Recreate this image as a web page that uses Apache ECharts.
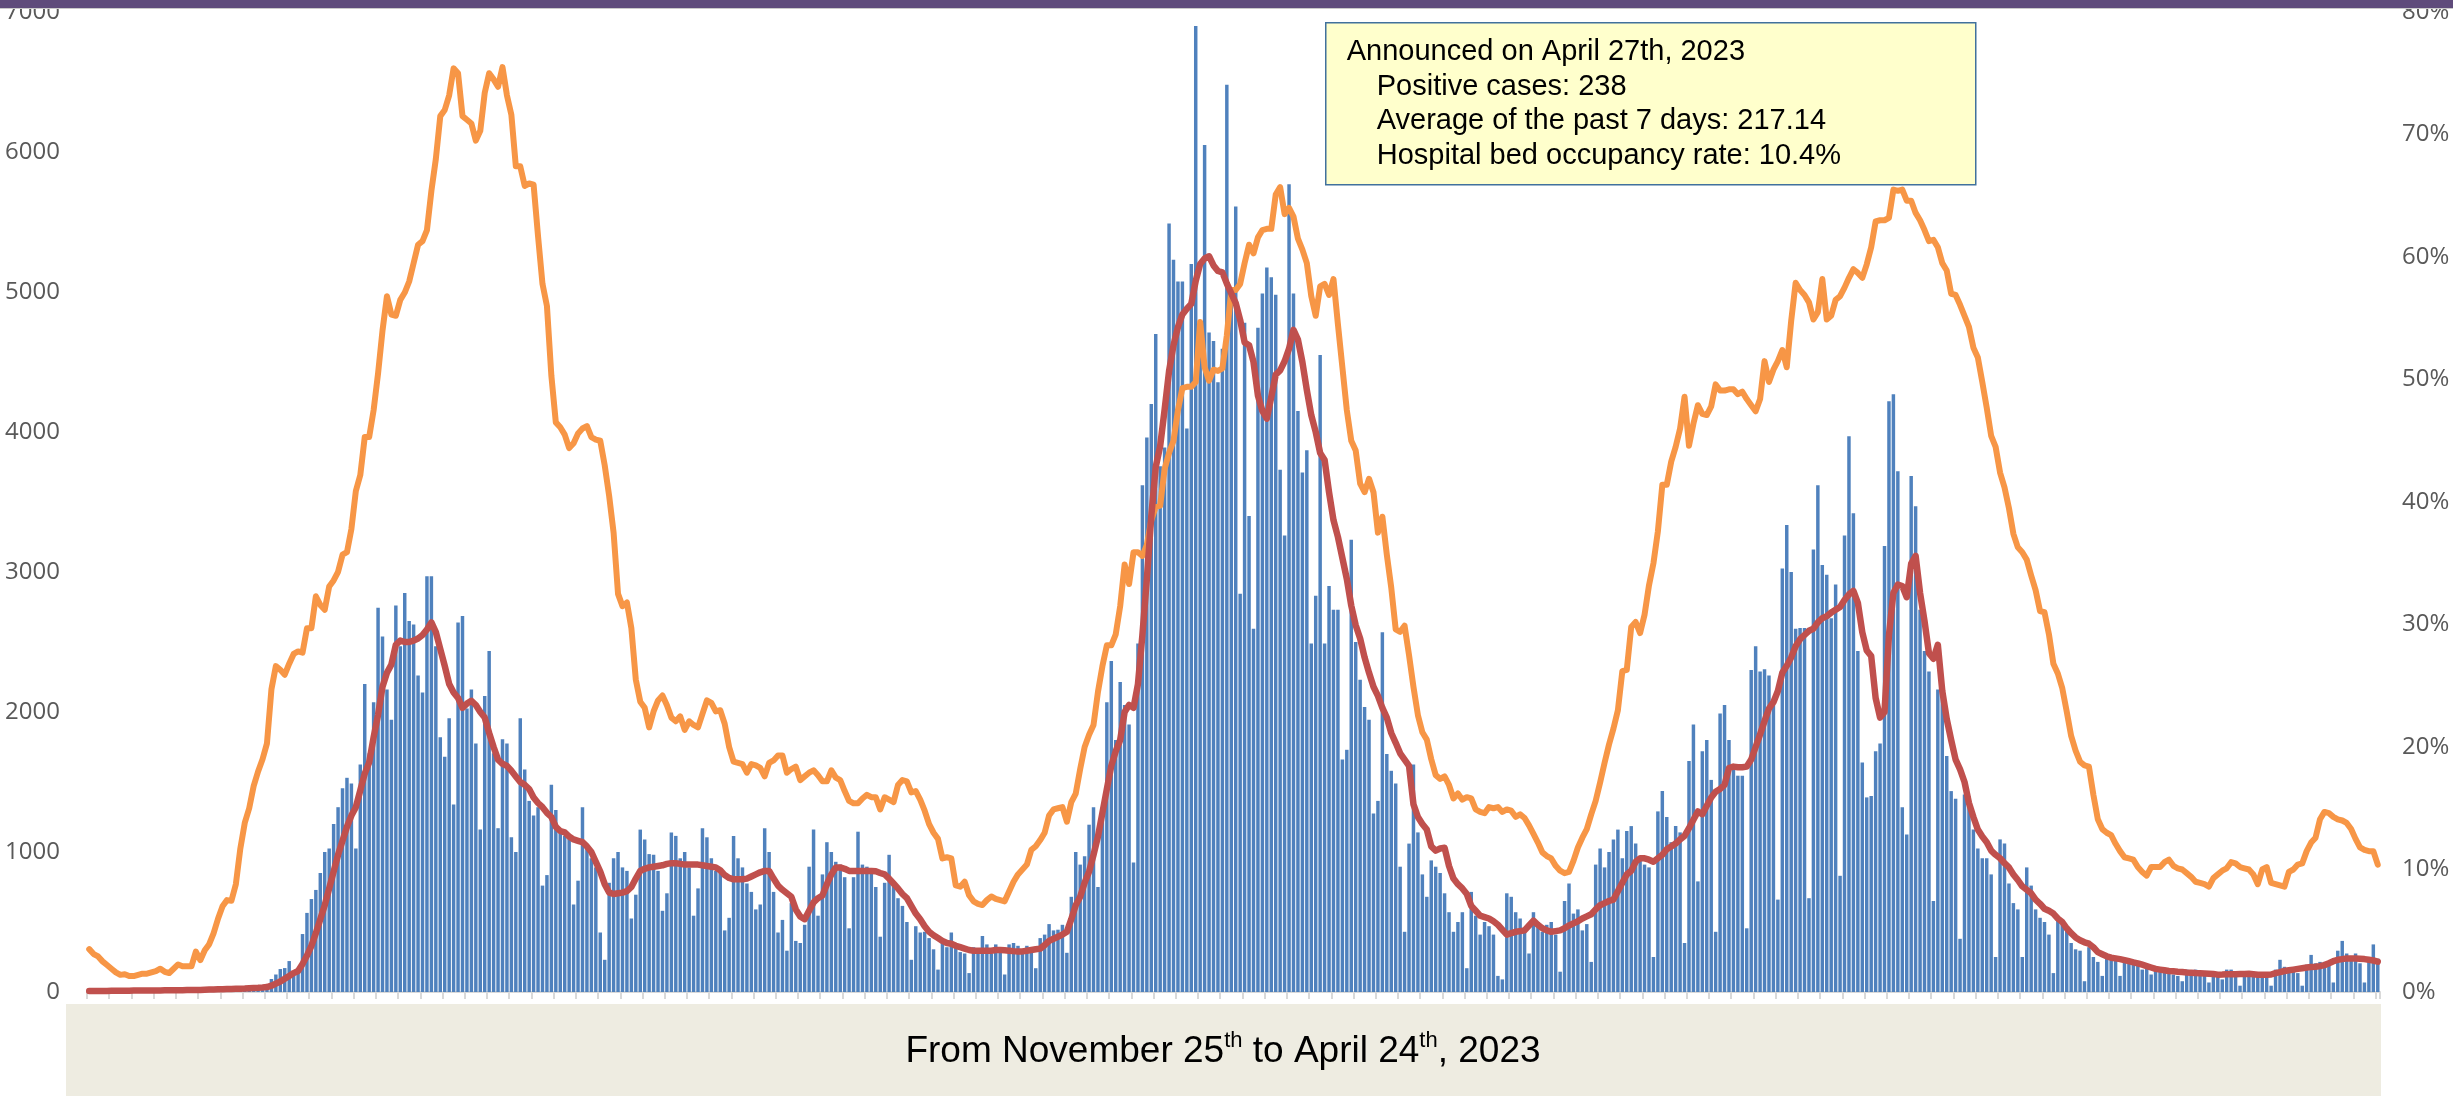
<!DOCTYPE html>
<html>
<head>
<meta charset="utf-8">
<title>Positive cases and hospital bed occupancy</title>
<script src="https://cdn.jsdelivr.net/npm/echarts@6/dist/echarts.min.js"></script>
<style>
  html, body { margin: 0; padding: 0; background: #fff; }
  #chart { width: 2453px; height: 1096px; }
</style>
</head>
<body>
<div id="chart"></div>
<script>
// daily positive cases, 2021-11-25 .. 2023-04-24 (516 days)
const startDate = '2021-11-25';
const cases = [
  6, 9, 7, 10, 8, 9, 11, 7, 10, 12,                          // 0
  9, 8, 11, 13, 9, 12, 10, 14, 13, 11,                       // 10
  12, 12, 15, 14, 16, 13, 15, 18, 16, 20,                    // 20
  19, 22, 18, 24, 26, 24, 28, 31, 30, 35,                    // 30
  38, 93, 125, 164, 171, 221, 121, 135, 414, 565,            // 40
  664, 729, 850, 1000, 1025, 1200, 1320, 1455, 1530, 1490,   // 50
  1025, 1625, 2200, 1705, 2070, 2745, 2540, 2160, 1945, 2760,
  2470, 2850, 2650, 2625, 2260, 2140, 2970, 2970, 2470, 1820,
  1680, 1955, 1340, 2640, 2685, 2025, 2160, 1775, 1160, 2115,
  2435, 1705, 1170, 1805, 1775, 1105, 1000, 1955, 1590, 1365,
  1260, 1320, 760, 835, 1480, 1300, 1140, 1115, 1125, 625,   // 100
  795, 1320, 1025, 955, 890, 425, 230, 780, 955, 1000,
  890, 865, 525, 695, 1160, 1090, 985, 980, 865, 580,
  705, 1140, 1115, 955, 1000, 890, 545, 740, 1170, 1105,
  955, 865, 850, 440, 530, 1115, 955, 890, 775, 715,
  590, 625, 1170, 1000, 715, 425, 515, 295, 635, 365,        // 150
  350, 480, 895, 1160, 545, 840, 1070, 1000, 930, 910,
  820, 455, 820, 1145, 910, 895, 880, 750, 395, 780,
  980, 775, 670, 615, 500, 230, 470, 425, 430, 385,
  305, 160, 350, 320, 425, 350, 285, 275, 135, 320,
  275, 400, 340, 275, 340, 310, 125, 340, 350, 330,          // 200
  295, 330, 280, 170, 385, 410, 485, 440, 445, 480,
  280, 680, 1000, 910, 970, 1195, 1320, 750, 1320, 2070,
  2365, 1800, 2215, 2050, 1910, 925, 2490, 3620, 3960, 4200,
  4700, 3755, 3890, 5490, 5230, 5075, 5075, 4025, 5200, 6900,
  4800, 6050, 4710, 4650, 4355, 4595, 6480, 5005, 5610, 2845, // 250
  4780, 3400, 2595, 4745, 4990, 5175, 5105, 4980, 3730, 3260,
  5770, 4990, 4150, 3710, 3870, 2490, 2830, 4550, 2490, 2900,
  2730, 2730, 1660, 1730, 3230, 2500, 2230, 2035, 1945, 1275,
  1365, 2570, 1700, 1580, 1490, 895, 430, 1060, 1625, 1140,
  840, 680, 940, 895, 850, 705, 570, 430, 500, 570,          // 300
  170, 715, 545, 410, 500, 470, 410, 115, 90, 705,
  680, 570, 525, 455, 275, 570, 500, 430, 480, 500,
  410, 145, 650, 775, 560, 590, 440, 485, 215, 910,
  1025, 890, 1000, 1090, 1160, 955, 1150, 1185, 1060, 955,
  910, 890, 250, 1290, 1435, 1250, 1070, 1185, 1140, 350,    // 350
  1650, 1910, 790, 1720, 1800, 1515, 430, 1990, 2050, 1800,
  1615, 1545, 1545, 455, 2300, 2470, 2290, 2305, 2260, 2095,
  660, 3025, 3335, 3000, 2595, 2600, 2600, 670, 3160, 3620,
  3050, 2980, 2670, 2910, 830, 3260, 3970, 3420, 2435, 1640,
  1390, 1400, 1720, 1775, 3185, 4220, 4270, 3720, 1320, 1125, // 400
  3685, 3470, 2730, 2435, 2290, 650, 2160, 2170, 1685, 1435,
  1380, 380, 1410, 1400, 1160, 1025, 955, 955, 840, 250,
  1090, 1060, 775, 635, 590, 250, 890, 760, 590, 530,
  500, 410, 135, 525, 500, 440, 350, 305, 295, 77,
  320, 250, 215, 115, 260, 250, 245, 115, 230, 235,          // 450
  230, 195, 160, 195, 125, 180, 160, 150, 135, 125,
  115, 77, 160, 135, 160, 150, 115, 68, 150, 125,
  90, 160, 160, 135, 45, 150, 135, 125, 125, 115,
  115, 45, 160, 230, 180, 160, 170, 135, 45, 195,
  265, 205, 215, 215, 205, 68, 295, 365, 275, 250,           // 500
  275, 205, 68, 230, 340, 238
];

// average of the past 7 days
const average7 = [
  8, 8, 8, 8, 8, 9, 9, 9, 9, 9,
  10, 10, 10, 10, 11, 11, 11, 12, 12, 12,
  13, 13, 14, 14, 15, 15, 16, 17, 18, 19,
  20, 21, 22, 23, 24, 25, 27, 29, 30, 32,
  35, 45, 60, 75, 95, 115, 135, 150, 200, 260,
  330, 420, 520, 620, 740, 860, 980, 1080, 1180, 1260,
  1320, 1440, 1560, 1640, 1820, 1980, 2180, 2280, 2340, 2480,
  2510, 2500, 2500, 2510, 2525, 2550, 2590, 2640, 2570, 2450,
  2330, 2200, 2140, 2100, 2030, 2060, 2080, 2050, 2000, 1960,
  1850, 1750, 1660, 1630, 1615, 1580, 1540, 1500, 1480, 1450,
  1390, 1350, 1320, 1280, 1250, 1180, 1150, 1140, 1110, 1090, // 100
  1080, 1070, 1040, 1000, 930, 860, 770, 710, 700, 705,
  710, 720, 750, 810, 865, 880, 890, 895, 900, 905,
  915, 920, 920, 915, 910, 910, 910, 910, 905, 900,
  895, 890, 870, 835, 815, 805, 805, 805, 810, 825,
  840, 855, 865, 865, 810, 760, 730, 705, 680, 590,
  540, 520, 580, 640, 670, 690, 770, 840, 890, 890,
  880, 865, 865, 865, 865, 865, 865, 862, 850, 840,
  810, 775, 740, 700, 670, 615, 560, 520, 470, 430,
  405, 385, 365, 350, 345, 330, 320, 310, 300, 295,
  295, 295, 295, 295, 300, 300, 298, 295, 292, 290,           // 200
  290, 295, 300, 305, 310, 335, 365, 380, 395, 410,
  430, 520, 620, 680, 780, 860, 980, 1110, 1280, 1450,
  1615, 1720, 1800, 2000, 2050, 2030, 2200, 2550, 2950, 3400,
  3750, 3900, 4160, 4435, 4620, 4750, 4840, 4880, 4915, 5080,
  5200, 5240, 5255, 5190, 5150, 5140, 5060, 4990, 4920, 4800,
  4640, 4620, 4500, 4260, 4150, 4095, 4250, 4410, 4440, 4505,
  4595, 4730, 4660, 4500, 4300, 4120, 4000, 3850, 3800, 3570,
  3370, 3250, 3100, 2950, 2760, 2620, 2525, 2390, 2280, 2180,
  2115, 2030, 1960, 1850, 1780, 1705, 1660, 1615, 1340, 1250,
  1200, 1160, 1040, 1010, 1025, 1030, 900, 810, 770, 740,     // 300
  700, 615, 580, 545, 535, 525, 505, 480, 445, 410,
  420, 430, 435, 440, 475, 510, 480, 455, 440, 430,
  435, 440, 455, 475, 490, 505, 525, 540, 555, 590,
  620, 635, 650, 660, 720, 780, 840, 865, 930, 955,
  955, 945, 930, 955, 980, 1020, 1040, 1060, 1090, 1115,
  1170, 1230, 1290, 1270, 1330, 1390, 1430, 1450, 1480, 1600,
  1610, 1605, 1605, 1610, 1660, 1750, 1840, 1935, 2025, 2070,
  2150, 2280, 2330, 2390, 2470, 2520, 2550, 2580, 2595, 2640,
  2670, 2685, 2710, 2730, 2750, 2800, 2840, 2865, 2780, 2570,
  2440, 2400, 2100, 1960, 2000, 2550, 2850, 2910, 2900, 2820, // 400
  3060, 3115, 2850, 2650, 2420, 2380, 2480, 2150, 1950, 1800,
  1660, 1590, 1500, 1350, 1250, 1160, 1110, 1070, 1010, 980,
  955, 920, 890, 840, 800, 755, 730, 705, 660, 630,
  595, 580, 560, 525, 500, 455, 420, 390, 370, 355,
  345, 320, 285, 270, 255, 245, 240, 235, 228, 220,
  212, 205, 195, 185, 175, 165, 160, 155, 150, 148,
  145, 143, 140, 138, 135, 134, 132, 130, 128, 124,
  125, 127, 127, 127, 128, 129, 130, 127, 123, 123,
  123, 125, 135, 142, 150, 155, 160, 165, 170, 175,
  178, 180, 185, 192, 205, 220, 230, 235, 240, 240,           // 500
  240, 238, 235, 230, 225, 217
];

// hospital bed occupancy rate, %
const bedRate = [
  3.5, 3.1, 2.9, 2.5, 2.2, 1.9, 1.6, 1.4, 1.45, 1.3,
  1.3, 1.4, 1.5, 1.5, 1.6, 1.7, 1.9, 1.65, 1.55, 1.9,
  2.25, 2.1, 2.1, 2.1, 3.3, 2.6, 3.4, 3.9, 4.8, 6.0,
  7.0, 7.5, 7.45, 8.8, 11.7, 13.8, 15.0, 16.8, 18.0, 19.0,
  20.3, 24.7, 26.6, 26.3, 25.9, 26.8, 27.6, 27.8, 27.7, 29.7,
  29.7, 32.3, 31.6, 31.2, 33.1, 33.6, 34.3, 35.7, 35.9, 37.8,
  40.9, 42.2, 45.3, 45.3, 47.5, 50.5, 54.0, 56.8, 55.3, 55.2,
  56.5, 57.1, 58.0, 59.5, 61.0, 61.3, 62.2, 65.4, 68.0, 71.5,
  72.0, 73.2, 75.4, 75.0, 71.5, 71.2, 70.9, 69.5, 70.3, 73.4,
  75.0, 74.5, 73.9, 75.5, 73.2, 71.6, 67.4, 67.4, 65.8, 66.0,
  65.9, 61.7, 57.8, 56.0, 50.3, 46.5, 46.1, 45.5, 44.4, 44.8, // 100
  45.6, 46.0, 46.2, 45.3, 45.1, 45.0, 43.0, 40.5, 37.5, 32.5,
  31.5, 31.8, 29.7, 25.5, 23.7, 23.2, 21.6, 22.9, 23.8, 24.2,
  23.4, 22.4, 22.1, 22.5, 21.4, 22.1, 21.8, 21.6, 22.7, 23.8,
  23.6, 22.9, 23.0, 21.9, 20.0, 18.8, 18.7, 18.6, 17.9, 18.6,
  18.5, 18.3, 17.6, 18.7, 18.9, 19.3, 19.3, 17.9, 18.2, 18.4,
  17.3, 17.6, 17.9, 18.1, 17.7, 17.2, 17.2, 18.1, 17.5, 17.3,
  16.4, 15.6, 15.4, 15.4, 15.8, 16.1, 15.9, 15.9, 14.9, 15.9,
  15.7, 15.5, 16.9, 17.3, 17.2, 16.3, 16.4, 15.7, 14.8, 13.7,
  13.0, 12.5, 10.9, 11.0, 10.9, 8.7, 8.6, 9.0, 7.9, 7.4,
  7.2, 7.1, 7.5, 7.8, 7.6, 7.5, 7.4, 8.2, 9.0, 9.6,           // 200
  10.0, 10.4, 11.6, 11.9, 12.4, 13.0, 14.4, 14.9, 15.0, 15.1,
  13.9, 15.5, 16.2, 18.2, 20.0, 21.0, 21.8, 24.5, 26.6, 28.3,
  28.3, 29.2, 31.5, 34.9, 33.3, 35.9, 35.9, 35.6, 36.5, 38.5,
  39.6, 39.7, 42.7, 44.0, 45.0, 47.5, 49.3, 49.4, 49.4, 49.8,
  54.7, 51.0, 49.9, 50.8, 50.7, 50.9, 53.6, 57.3, 57.3, 57.8,
  59.5, 61.0, 60.3, 61.6, 62.2, 62.3, 62.3, 65.1, 65.7, 63.5,
  64.0, 63.3, 61.5, 60.6, 59.5, 56.8, 55.2, 57.6, 57.8, 56.9,
  58.2, 54.5, 51.0, 47.5, 45.0, 44.2, 41.5, 40.8, 41.9, 40.8,
  37.5, 38.8, 35.7, 33.0, 29.6, 29.4, 29.9, 27.5, 24.9, 22.6,
  21.2, 20.6, 19.0, 17.7, 17.4, 17.6, 16.9, 15.8, 16.2, 15.7, // 300
  15.9, 15.8, 14.9, 14.7, 14.6, 15.1, 15.0, 15.1, 14.7, 14.9,
  14.8, 14.3, 14.5, 14.2, 13.6, 12.9, 12.2, 11.4, 11.1, 10.9,
  10.3, 9.9, 9.7, 9.8, 10.7, 11.8, 12.6, 13.3, 14.5, 15.6,
  17.1, 18.7, 20.2, 21.5, 23.0, 26.2, 26.3, 29.8, 30.2, 29.3,
  30.8, 33.2, 35.0, 37.6, 41.4, 41.4, 43.3, 44.5, 46.0, 48.6,
  44.6, 46.4, 47.9, 47.2, 47.1, 47.8, 49.6, 49.1, 49.1, 49.2,
  49.2, 48.8, 49.0, 48.4, 47.9, 47.4, 48.4, 51.5, 49.8, 50.8,
  51.5, 52.4, 51.0, 54.8, 57.9, 57.3, 56.9, 56.3, 54.9, 55.5,
  58.2, 54.9, 55.2, 56.5, 56.8, 57.5, 58.3, 59.0, 58.7, 58.3,
  59.4, 60.8, 62.9, 63.0, 63.0, 63.2, 65.5, 65.4, 65.5, 64.6, // 400
  64.6, 63.6, 63.0, 62.2, 61.3, 61.4, 60.8, 59.5, 58.9, 57.0,
  56.9, 56.1, 55.2, 54.3, 52.6, 51.8, 49.8, 47.7, 45.4, 44.5,
  42.4, 41.2, 39.5, 37.4, 36.3, 35.9, 35.3, 34.0, 32.8, 31.1,
  31.0, 29.2, 26.8, 26.0, 24.8, 22.9, 20.9, 19.7, 18.8, 18.5,
  18.4, 16.1, 14.1, 13.3, 13.0, 12.8, 12.1, 11.5, 11.0, 10.9,
  10.8, 10.2, 9.8, 9.5, 10.2, 10.2, 10.2, 10.6, 10.8, 10.3,
  10.1, 10.0, 9.7, 9.4, 9.0, 8.9, 8.8, 8.6, 9.3, 9.6,
  9.9, 10.1, 10.6, 10.5, 10.2, 10.1, 10.0, 9.6, 8.8, 10.0,
  10.2, 8.9, 8.8, 8.7, 8.6, 9.8, 10.0, 10.4, 10.5, 11.5,
  12.2, 12.6, 14.1, 14.7, 14.6, 14.3, 14.1, 14.0, 13.8, 13.3, // 500
  12.5, 11.8, 11.6, 11.5, 11.5, 10.4
];

const noteLines = [
  'Announced on April 27th, 2023',
  'Positive cases: 238',
  'Average of the past 7 days: 217.14',
  'Hospital bed occupancy rate: 10.4%'
];

// one category per day
const days = [];
const d0 = new Date(startDate + 'T00:00:00Z');
for (let i = 0; i < cases.length; i++) {
  const d = new Date(d0.getTime() + i * 86400000);
  days.push(d.toISOString().slice(0, 10));
}

const chart = echarts.init(document.getElementById('chart'), null, { renderer: 'canvas' });

const axisFont = { fontFamily: 'Open Sans', fontSize: 24, color: '#595959' };
const noteFont = 'Liberation Sans';

chart.setOption({
  animation: false,
  backgroundColor: '#ffffff',
  grid: { left: 87, right: 73, top: 11, bottom: 104, containLabel: false },
  xAxis: {
    type: 'category',
    data: days,
    boundaryGap: true,
    axisLine: { lineStyle: { color: '#D9D9D9', width: 2 } },
    axisTick: { show: true, interval: 4, length: 7, lineStyle: { color: '#D9D9D9', width: 2 } },
    axisLabel: { show: false },
    splitLine: { show: false }
  },
  yAxis: [{
    type: 'value',
    min: 0, max: 7000, interval: 1000,
    axisLine: { show: false },
    axisTick: { show: false },
    splitLine: { show: false },
    axisLabel: Object.assign({ margin: 27, formatter: v => String(v) }, axisFont)
  }, {
    type: 'value',
    min: 0, max: 80, interval: 10,
    position: 'right',
    axisLine: { show: false },
    axisTick: { show: false },
    splitLine: { show: false },
    axisLabel: Object.assign({ margin: 22, formatter: '{value}%' }, axisFont)
  }],
  series: [{
    name: 'Positive cases',
    type: 'bar',
    data: cases,
    barCategoryGap: '22%',
    itemStyle: { color: '#4F81BD' },
    z: 2
  }, {
    name: 'Hospital bed occupancy rate',
    type: 'line',
    yAxisIndex: 1,
    data: bedRate,
    symbol: 'none',
    lineStyle: { color: '#F79646', width: 6, cap: 'round', join: 'round' },
    z: 3
  }, {
    name: 'Average of the past 7 days',
    type: 'line',
    data: average7,
    symbol: 'none',
    lineStyle: { color: '#C0504D', width: 6.5, cap: 'round', join: 'round' },
    z: 4
  }],
  graphic: [
    // purple band across the top
    { type: 'rect', left: 0, top: 0, z: 100, shape: { width: 2453, height: 8 }, style: { fill: '#5F4B7B' } },
    { type: 'rect', left: 0, top: 8, z: 100, shape: { width: 2453, height: 1 }, style: { fill: '#C9C9C9' } },
    // note box
    {
      type: 'group', left: 1325, top: 22, z: 50,
      children: [
        { type: 'rect', shape: { x: 0, y: 0, width: 650, height: 162 },
          style: { fill: '#FFFFCC', stroke: '#41719C', lineWidth: 1.5 } },
        { type: 'text', x: 21, y: 29, style: { text: noteLines[0], font: '29px "' + noteFont + '"', fill: '#000', verticalAlign: 'middle' } },
        { type: 'text', x: 51, y: 64, style: { text: noteLines[1], font: '29px "' + noteFont + '"', fill: '#000', verticalAlign: 'middle' } },
        { type: 'text', x: 51, y: 98, style: { text: noteLines[2], font: '29px "' + noteFont + '"', fill: '#000', verticalAlign: 'middle' } },
        { type: 'text', x: 51, y: 133, style: { text: noteLines[3], font: '29px "' + noteFont + '"', fill: '#000', verticalAlign: 'middle' } }
      ]
    },
    // period box under the axis
    { type: 'rect', left: 66, top: 1004, z: 40, shape: { width: 2315, height: 92 }, style: { fill: '#EEECE1' } },
    {
      type: 'text', x: 1223, y: 1052, z: 41,
      style: {
        text: '{n|From November 25}{s|th}{n| to April 24}{s|th}{n|, 2023}',
        align: 'center', verticalAlign: 'middle',
        rich: {
          n: { fontFamily: noteFont, fontSize: 37, lineHeight: 44, fill: '#000' },
          s: { fontFamily: noteFont, fontSize: 22, lineHeight: 44, verticalAlign: 'top', fill: '#000' }
        }
      }
    }
  ]
});
</script>
</body>
</html>
